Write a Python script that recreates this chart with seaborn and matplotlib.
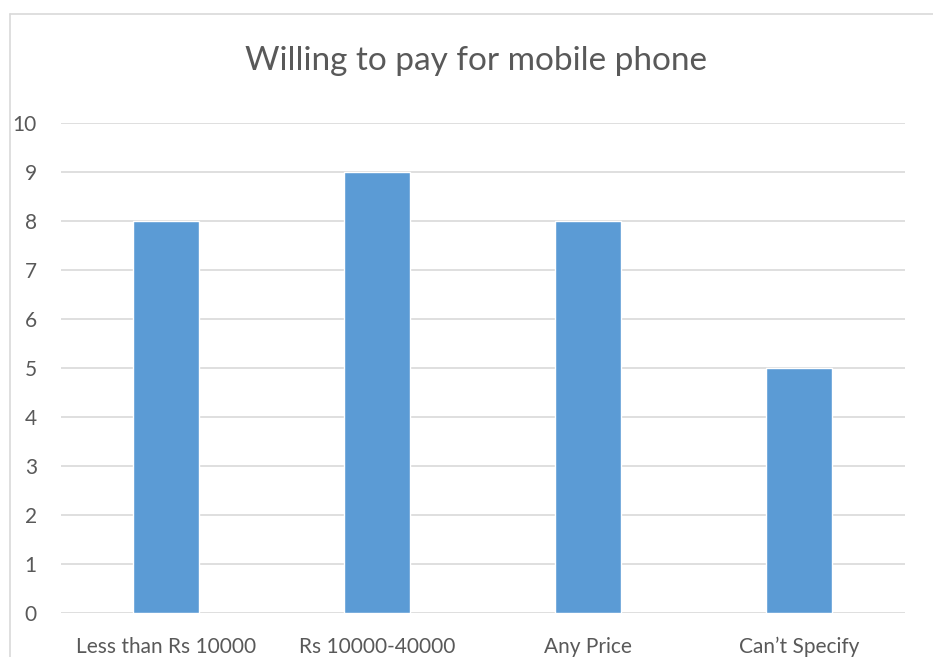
import matplotlib
matplotlib.use("Agg")
import matplotlib.pyplot as plt
from matplotlib.lines import Line2D
import seaborn as sns
import pandas as pd

categories = ["Less than Rs 10000", "Rs 10000-40000", "Any Price", "Can\u2019t Specify"]
counts = [8, 9, 8, 5]
title = "Willing to pay for mobile phone"

sns.set_theme(style="white")
plt.rcParams["font.family"] = ["Lato", "DejaVu Sans"]

W, H = 933, 657
fig = plt.figure(figsize=(W / 100, H / 100), dpi=100)
ax = fig.add_axes([60.5 / W, 1 - 613 / H, 844 / W, 490 / H])

df = pd.DataFrame({"category": categories, "count": counts})
sns.barplot(data=df, x="category", y="count", color="#5B9BD5", saturation=1,
            width=0.31, ax=ax, zorder=3)

ax.set_ylim(0, 10)
ax.set_xlim(-0.5, len(categories) - 0.5)
ax.set_yticks(range(0, 11))
ax.yaxis.grid(True, color="#D9D9D9", linewidth=1.2, zorder=0)
ax.xaxis.grid(False)
for s in ax.spines.values():
    s.set_visible(False)
ax.tick_params(axis="y", length=0, pad=17, labelsize=15, labelcolor="#595959")
ax.tick_params(axis="x", length=0, pad=17, labelsize=15, labelcolor="#595959")
for lbl in ax.get_yticklabels():
    lbl.set_horizontalalignment("right")
ax.set_xlabel("")
ax.set_ylabel("")

fig.text(476 / W, 1 - 61 / H, title, ha="center", va="center",
         fontsize=24, color="#595959")

# chart frame (top and left edges)
fig.add_artist(Line2D([10 / W, 1.0], [1 - 14 / H, 1 - 14 / H],
                      transform=fig.transFigure, color="#D9D9D9", linewidth=1.2))
fig.add_artist(Line2D([10 / W, 10 / W], [0.0, 1 - 14 / H],
                      transform=fig.transFigure, color="#D9D9D9", linewidth=1.2))

fig.savefig("out.png", dpi=100, facecolor="white")
